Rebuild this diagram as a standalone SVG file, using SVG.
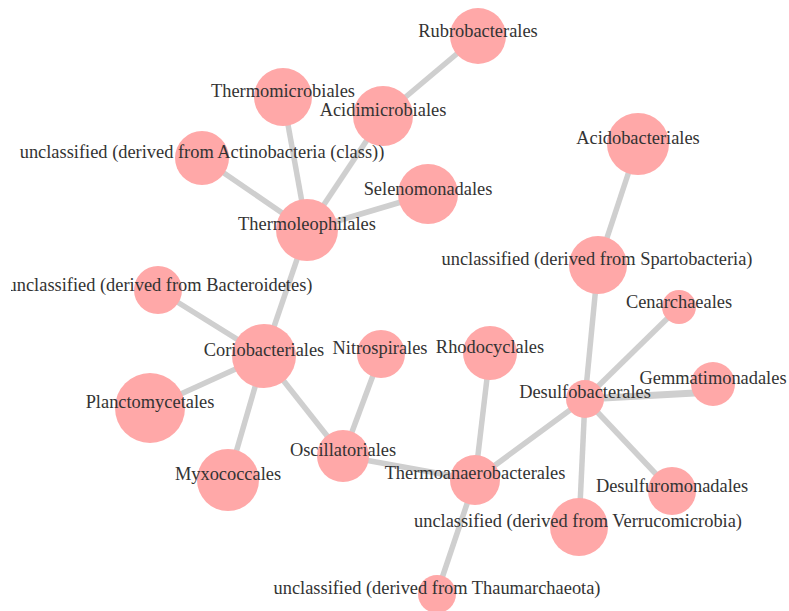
<svg xmlns="http://www.w3.org/2000/svg" width="789" height="611" viewBox="0 0 789 611">
<style>
.e{stroke:#cfcfcf;stroke-width:5.5;stroke-linecap:butt;fill:none}
.n circle{fill:#ffa8a8}
.n text{font-family:"Liberation Serif","Times New Roman",serif;font-size:18.4px;fill:#333;text-anchor:middle}
</style>
<defs><clipPath id="c"><rect x="11" y="0" width="778" height="611"/></clipPath></defs>
<rect width="789" height="611" fill="#fff"/>
<g clip-path="url(#c)">
<g id="edges">
<line class="e" x1="478" y1="36" x2="383" y2="116"/>
<line class="e" x1="283" y1="97" x2="307" y2="230"/>
<line class="e" x1="383" y1="116" x2="307" y2="230"/>
<line class="e" x1="202" y1="158" x2="307" y2="230"/>
<line class="e" x1="428" y1="194" x2="307" y2="230"/>
<line class="e" x1="307" y1="230" x2="264" y2="356"/>
<line class="e" x1="158" y1="290" x2="264" y2="356"/>
<line class="e" x1="150" y1="408" x2="264" y2="356"/>
<line class="e" x1="228" y1="480" x2="264" y2="356"/>
<line class="e" x1="343" y1="456" x2="264" y2="356"/>
<line class="e" x1="381" y1="354" x2="343" y2="456"/>
<line class="e" x1="343" y1="456" x2="475" y2="480"/>
<line class="e" x1="490" y1="353" x2="475" y2="480"/>
<line class="e" x1="475" y1="480" x2="585" y2="399"/>
<line class="e" x1="475" y1="480" x2="437" y2="593"/>
<line class="e" x1="585" y1="399" x2="598" y2="265"/>
<line class="e" x1="598" y1="265" x2="638" y2="144"/>
<line class="e" x1="585" y1="399" x2="679" y2="307"/>
<line class="e" x1="585" y1="399" x2="713" y2="392" style="stroke-width:7"/>
<line class="e" x1="585" y1="399" x2="672" y2="491"/>
<line class="e" x1="585" y1="399" x2="579" y2="527"/>
</g>
<g id="rubrobacterales" class="n"><circle cx="478" cy="36" r="28"/><text x="478" y="37">Rubrobacterales</text></g>
<g id="thermomicrobiales" class="n"><circle cx="283" cy="97" r="29"/><text x="283" y="97">Thermomicrobiales</text></g>
<g id="acidimicrobiales" class="n"><circle cx="383" cy="116" r="30"/><text x="383" y="116">Acidimicrobiales</text></g>
<g id="unclassified-actinobacteria" class="n"><circle cx="202" cy="158" r="27"/><text x="202" y="158">unclassified (derived from Actinobacteria (class))</text></g>
<g id="selenomonadales" class="n"><circle cx="428" cy="194" r="30"/><text x="428" y="195">Selenomonadales</text></g>
<g id="thermoleophilales" class="n"><circle cx="307" cy="230" r="31"/><text x="307" y="230">Thermoleophilales</text></g>
<g id="unclassified-bacteroidetes" class="n"><circle cx="158" cy="290" r="24"/><text x="160" y="291">unclassified (derived from Bacteroidetes)</text></g>
<g id="acidobacteriales" class="n"><circle cx="638" cy="144" r="31"/><text x="638" y="144">Acidobacteriales</text></g>
<g id="unclassified-spartobacteria" class="n"><circle cx="598" cy="265" r="29"/><text x="597" y="265">unclassified (derived from Spartobacteria)</text></g>
<g id="coriobacteriales" class="n"><circle cx="264" cy="356" r="32"/><text x="264" y="356">Coriobacteriales</text></g>
<g id="nitrospirales" class="n"><circle cx="381" cy="354" r="24"/><text x="380" y="354">Nitrospirales</text></g>
<g id="rhodocyclales" class="n"><circle cx="490" cy="353" r="27"/><text x="490" y="353">Rhodocyclales</text></g>
<g id="cenarchaeales" class="n"><circle cx="679" cy="307" r="17"/><text x="679" y="308">Cenarchaeales</text></g>
<g id="gemmatimonadales" class="n"><circle cx="713" cy="384" r="22"/><text x="713" y="384">Gemmatimonadales</text></g>
<g id="desulfobacterales" class="n"><circle cx="585" cy="399" r="19"/><text x="585" y="398">Desulfobacterales</text></g>
<g id="planctomycetales" class="n"><circle cx="150" cy="408" r="35"/><text x="150" y="408">Planctomycetales</text></g>
<g id="oscillatoriales" class="n"><circle cx="343" cy="456" r="26"/><text x="343" y="456">Oscillatoriales</text></g>
<g id="myxococcales" class="n"><circle cx="228" cy="480" r="31"/><text x="228" y="480">Myxococcales</text></g>
<g id="thermoanaerobacterales" class="n"><circle cx="475" cy="480" r="25"/><text x="475" y="479">Thermoanaerobacterales</text></g>
<g id="desulfuromonadales" class="n"><circle cx="672" cy="491" r="24"/><text x="672" y="492">Desulfuromonadales</text></g>
<g id="unclassified-verrucomicrobia" class="n"><circle cx="579" cy="527" r="29"/><text x="578" y="527">unclassified (derived from Verrucomicrobia)</text></g>
<g id="unclassified-thaumarchaeota" class="n"><circle cx="437" cy="594" r="19"/><text x="437" y="594">unclassified (derived from Thaumarchaeota)</text></g>
</g>
</svg>
